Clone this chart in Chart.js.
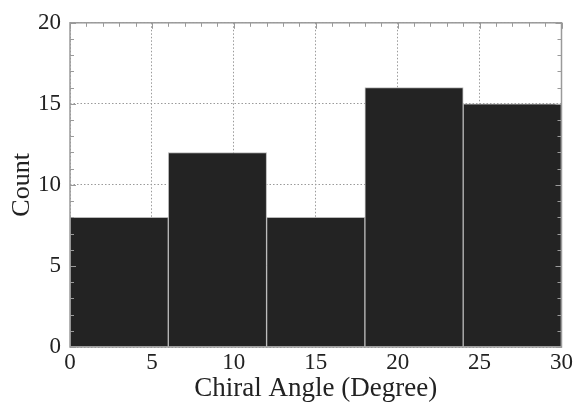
<!DOCTYPE html>
<html>
<head>
<meta charset="utf-8">
<script src="https://cdn.jsdelivr.net/npm/chart.js@4.4.1/dist/chart.umd.min.js"></script>
<style>
  html, body { margin: 0; padding: 0; background: #fff; }
  #wrap { width: 575px; height: 405px; }
</style>
</head>
<body>
<div id="wrap"><canvas id="chart" width="575" height="405"></canvas></div>
<script>
// histogram bins (degree) and counts
const binStarts = [0, 6, 12, 18, 24];
const binWidth = 6;
const counts = [8, 12, 8, 16, 15];
const xTicks = [0, 5, 10, 15, 20, 25, 30];
const yTicks = [0, 5, 10, 15, 20];

const points = binStarts.map((s, i) => ({ x: s + binWidth / 2, y: counts[i] }));

// inward minor ticks on every side plus frame
const frameTicks = {
  id: 'frameTicks',
  afterDatasetsDraw(chart) {
    const { ctx, chartArea: a, scales: { x, y } } = chart;
    ctx.save();
    ctx.strokeStyle = '#9a9a9a';
    ctx.lineWidth = 1;
    ctx.beginPath();
    for (let v = 0; v <= 30; v++) {
      const px = Math.round(x.getPixelForValue(v)) + 0.5;
      const len = v % 5 === 0 ? 6 : 4;
      ctx.moveTo(px, a.top); ctx.lineTo(px, a.top + len);
    }
    for (let v = 0; v <= 20; v++) {
      const py = Math.round(y.getPixelForValue(v)) + 0.5;
      const len = v % 5 === 0 ? 6 : 4;
      ctx.moveTo(a.left, py); ctx.lineTo(a.left + len, py);
      ctx.moveTo(a.right, py); ctx.lineTo(a.right - len, py);
    }
    ctx.stroke();
    ctx.lineWidth = 1.5;
    ctx.strokeRect(a.left, a.top, a.right - a.left, a.bottom - a.top);
    ctx.restore();
  }
};

new Chart(document.getElementById('chart'), {
  type: 'bar',
  data: {
    datasets: [{
      data: points,
      backgroundColor: '#232323',
      borderColor: '#b8b8b8',
      borderWidth: 1,
      barThickness: 'flex',
      barPercentage: 1,
      categoryPercentage: 1
    }]
  },
  options: {
    responsive: false,
    animation: false,
    layout: { padding: { left: 9, right: 12, top: 12, bottom: 0 } },
    plugins: { legend: { display: false }, tooltip: { enabled: false } },
    scales: {
      x: {
        type: 'linear',
        min: 0, max: 30,
        offset: false,
        afterBuildTicks: s => { s.ticks = xTicks.map(v => ({ value: v })); },
        grid: { offset: false, color: '#9a9a9a', drawTicks: false, lineWidth: 1 },
        border: { display: false, dash: [1.5, 2] },
        ticks: { color: '#222', font: { family: 'Liberation Serif', size: 23 }, padding: 2, maxRotation: 0 },
        title: { display: true, text: 'Chiral Angle (Degree)', color: '#222', font: { family: 'Liberation Serif', size: 27 }, padding: { top: -6, bottom: 0 } }
      },
      y: {
        min: 0, max: 20,
        afterBuildTicks: s => { s.ticks = yTicks.map(v => ({ value: v })); },
        grid: { color: '#9a9a9a', drawTicks: false, lineWidth: 1 },
        border: { display: false, dash: [1.5, 2] },
        ticks: { color: '#222', font: { family: 'Liberation Serif', size: 23 }, padding: 9 },
        title: { display: true, text: 'Count', color: '#222', font: { family: 'Liberation Serif', size: 26, lineHeight: 1 }, padding: { top: 0, bottom: -6 } }
      }
    }
  },
  plugins: [frameTicks]
});
</script>
</body>
</html>
